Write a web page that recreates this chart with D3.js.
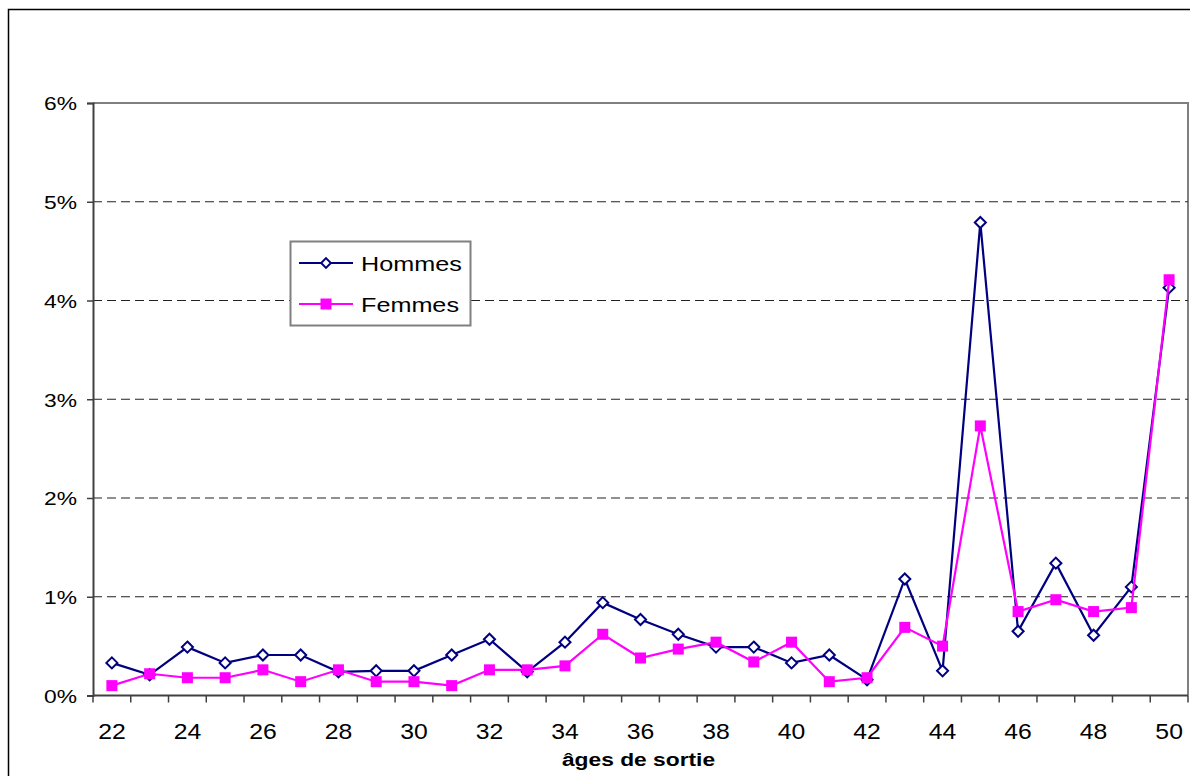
<!DOCTYPE html>
<html>
<head>
<meta charset="utf-8">
<script src="https://cdn.jsdelivr.net/npm/d3@7"></script>
<style>
  html, body { margin: 0; padding: 0; background: #fff; }
  svg { display: block; font-family: "Liberation Sans", Arial, sans-serif; }
</style>
</head>
<body>
<svg id="chart" width="1190" height="776"></svg>
<script>
// Ages de sortie (catégories de l'axe horizontal)
const ages = [22,23,24,25,26,27,28,29,30,31,32,33,34,35,36,37,38,39,40,41,42,43,44,45,46,47,48,49,50];

// Part des sorties par âge (fractions)
const hommes = [0.0033,0.0021,0.0049,0.0033,0.0041,0.0041,0.0024,0.0025,0.0025,0.0041,
                0.0057,0.0024,0.0054,0.0094,0.0077,0.0062,0.0049,0.0049,0.0033,0.0041,
                0.0016,0.0118,0.0025,0.0479,0.0065,0.0134,0.0061,0.0110,0.0413];
const femmes = [0.0010,0.0022,0.0018,0.0018,0.0026,0.0014,0.0026,0.0014,0.0014,0.0010,
                0.0026,0.0026,0.0030,0.0062,0.0038,0.0047,0.0054,0.0034,0.0054,0.0014,
                0.0018,0.0069,0.0050,0.0273,0.0085,0.0097,0.0085,0.0089,0.0421];

const yTicks = [0, 0.01, 0.02, 0.03, 0.04, 0.05, 0.06];
const xLabels = [22,24,26,28,30,32,34,36,38,40,42,44,46,48,50];

const seriesNames = ["Hommes", "Femmes"];
const seriesColors = ["#000080", "#ff00ff"];

const svg = d3.select("#chart");

// Cadre extérieur du graphique
svg.append("rect")
  .attr("x", 8.5).attr("y", 9.5)
  .attr("width", 1200).attr("height", 800)
  .attr("fill", "#fff").attr("stroke", "#000").attr("stroke-width", 1.5);

const plot = { left: 93, right: 1188, top: 103, bottom: 695.5 };

const x = d3.scaleBand().domain(ages).range([plot.left, plot.right]).padding(0);
const y = d3.scaleLinear().domain([0, 0.06]).range([plot.bottom, plot.top]);
const cx = d => x(d) + x.bandwidth() / 2;

// Bordure de la zone de traçage (haut et droite)
svg.append("path")
  .attr("d", `M${plot.left},${plot.top}H${plot.right}V${plot.bottom}`)
  .attr("fill", "none").attr("stroke", "#808080").attr("stroke-width", 2);

// Quadrillage horizontal en pointillés
svg.append("g")
  .selectAll("line")
  .data(yTicks.filter(t => t > 0 && t < 0.06))
  .join("line")
  .attr("x1", plot.left).attr("x2", plot.right)
  .attr("y1", d => y(d)).attr("y2", d => y(d))
  .attr("stroke", "#222").attr("stroke-width", 1.2)
  .attr("stroke-dasharray", "9,5");

// Axe vertical
const yAxis = svg.append("g")
  .attr("transform", `translate(${plot.left},0)`)
  .call(d3.axisLeft(y).tickValues(yTicks).tickFormat(d3.format(".0%")).tickSize(6).tickPadding(0));
yAxis.select(".domain").attr("stroke", "#404040").attr("stroke-width", 2);
yAxis.selectAll(".tick line").attr("stroke", "#404040").attr("stroke-width", 1.5);
yAxis.selectAll(".tick text")
  .attr("x", 0).attr("dy", "0.36em")
  .attr("transform", "translate(-16,0) scale(1.2,1)")
  .attr("fill", "#000")
  .style("font-size", "19px")
  .style("font-family", "'Liberation Sans', Arial, sans-serif");

// Axe horizontal : graduations entre les catégories, étiquettes un âge sur deux
const xAxis = svg.append("g")
  .attr("transform", `translate(0,${plot.bottom})`)
  .call(d3.axisBottom(x).tickValues(xLabels).tickSize(0).tickPadding(0));
xAxis.select(".domain").remove();
xAxis.selectAll(".tick text")
  .attr("y", 0).attr("dy", 0)
  .attr("transform", "translate(0,43.5) scale(1.1,1)")
  .attr("fill", "#000")
  .style("font-size", "22.5px")
  .style("font-family", "'Liberation Sans', Arial, sans-serif");

svg.append("line")
  .attr("x1", plot.left).attr("x2", plot.right)
  .attr("y1", plot.bottom).attr("y2", plot.bottom)
  .attr("stroke", "#404040").attr("stroke-width", 2);

svg.append("g")
  .selectAll("line")
  .data(ages.map(d => x(d)).concat([plot.right]))
  .join("line")
  .attr("x1", d => d).attr("x2", d => d)
  .attr("y1", plot.bottom).attr("y2", plot.bottom + 7)
  .attr("stroke", "#404040").attr("stroke-width", 1.5);

// Titre de l'axe horizontal
svg.append("text")
  .attr("transform", `translate(${(plot.left + plot.right) / 2 - 2},766) scale(1.2,1)`)
  .attr("text-anchor", "middle")
  .style("font-size", "19px").style("font-weight", "bold")
  .text("âges de sortie");

// Courbes
const line = d3.line().x((d, i) => cx(ages[i])).y(d => y(d));
const diamond = d3.symbol().type(d3.symbolDiamond2).size(78);

// Hommes : losanges blancs cerclés de bleu marine
svg.append("path")
  .datum(hommes)
  .attr("d", line)
  .attr("fill", "none").attr("stroke", seriesColors[0]).attr("stroke-width", 2.2);
svg.append("g")
  .selectAll("path")
  .data(hommes)
  .join("path")
  .attr("transform", (d, i) => `translate(${cx(ages[i])},${y(d)})`)
  .attr("d", diamond)
  .attr("fill", "#fff").attr("stroke", seriesColors[0]).attr("stroke-width", 2);

// Femmes : carrés pleins magenta
svg.append("path")
  .datum(femmes)
  .attr("d", line)
  .attr("fill", "none").attr("stroke", seriesColors[1]).attr("stroke-width", 2.2);
svg.append("g")
  .selectAll("rect")
  .data(femmes)
  .join("rect")
  .attr("x", (d, i) => cx(ages[i]) - 5.5)
  .attr("y", d => y(d) - 5.5)
  .attr("width", 11).attr("height", 11)
  .attr("fill", seriesColors[1]);

// Légende
const legend = svg.append("g");
legend.append("rect")
  .attr("x", 290.5).attr("y", 241.5).attr("width", 180).attr("height", 84)
  .attr("fill", "#fff").attr("stroke", "#808080").attr("stroke-width", 2);

const rowsY = [263, 304];
seriesNames.forEach((name, i) => {
  const g = legend.append("g").attr("transform", `translate(0,${rowsY[i]})`);
  g.append("line")
    .attr("x1", 299).attr("x2", 353).attr("y1", 0).attr("y2", 0)
    .attr("stroke", seriesColors[i]).attr("stroke-width", 2.2);
  if (i === 0) {
    g.append("path")
      .attr("transform", "translate(326,0)")
      .attr("d", d3.symbol().type(d3.symbolDiamond2).size(60))
      .attr("fill", "#fff").attr("stroke", seriesColors[i]).attr("stroke-width", 2);
  } else {
    g.append("rect")
      .attr("x", 320.5).attr("y", -5.5).attr("width", 11).attr("height", 11)
      .attr("fill", seriesColors[i]);
  }
  g.append("text")
    .attr("transform", "translate(361,0) scale(1.2,1)")
    .attr("dy", "0.36em")
    .style("font-size", "21px")
    .text(name);
});
</script>
</body>
</html>
